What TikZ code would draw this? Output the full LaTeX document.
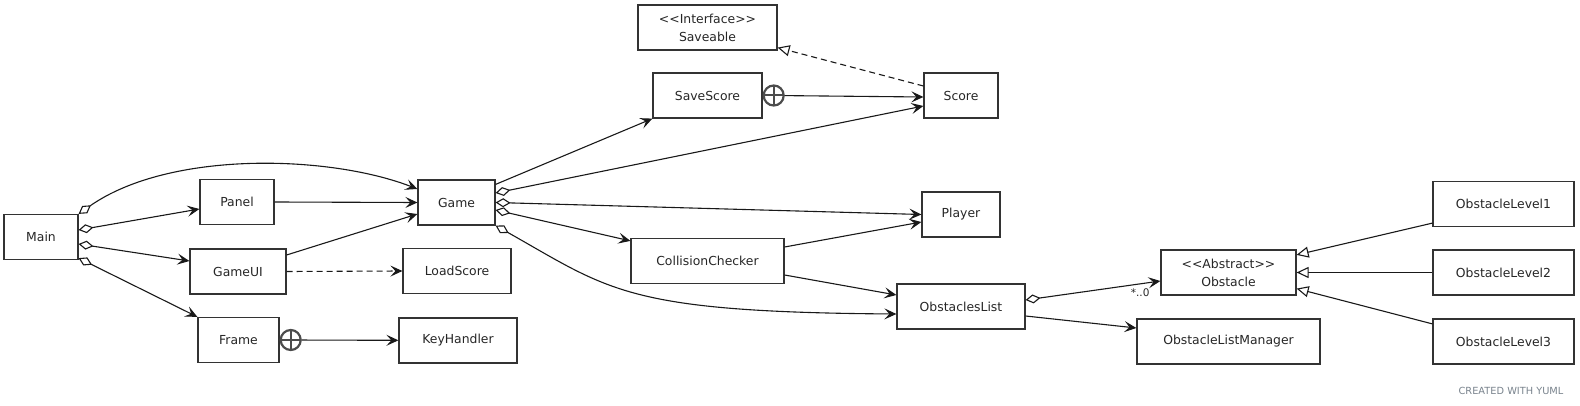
\documentclass[tikz,border=0pt]{standalone}
\usepackage{fontspec}
\setmainfont{DejaVu Sans}
\usepackage{tikz}
\usetikzlibrary{positioning,arrows.meta}

\definecolor{yumlgray}{RGB}{120,130,140}
\newcommand{\stereo}[1]{<\kern0pt<#1>\kern0pt>}

\tikzset{
  cls/.style={draw=black!80, line width=1.2pt, minimum height=45pt, inner sep=0pt,
    text=black!85, font=\fontsize{12.4}{18}\selectfont, align=center},
  vee/.style={-{Stealth[length=12pt,width=11pt,inset=5pt]}},
  assoc/.style={line width=1.1pt, black!90, vee},
  aggr/.style={assoc, {Diamond[fill=white,length=15pt,width=9pt]}-{Stealth[length=12pt,width=11pt,inset=5pt]}},
  dep/.style={assoc, dash pattern=on 6pt off 4pt},
  inherit/.style={line width=1.1pt, black!90, -{Triangle[fill=white,length=12pt,width=11pt]}},
  realize/.style={inherit, dash pattern=on 6pt off 4pt},
  nest/.style={circle, draw=black!70, line width=2.2pt, minimum size=20pt, inner sep=0pt, fill=white,
    path picture={\draw[black!70, line width=2pt]
      (path picture bounding box.north) -- (path picture bounding box.south)
      (path picture bounding box.west) -- (path picture bounding box.east);}},
  mult/.style={font=\fontsize{10.5}{12}\selectfont, text=black!85, inner sep=1pt},
  credit/.style={font=\fontsize{9.8}{11}\selectfont, text=yumlgray}
}

\begin{document}
\begin{tikzpicture}[x=1pt,y=-1pt]
    \useasboundingbox (0,0) rectangle (1580,406);
    % classes
    \node[cls, minimum width=74pt] (main) at (41,237) {Main};
    \node[cls, minimum width=74pt] (panel) at (237,202) {Panel};
    \node[cls, minimum width=96pt] (gameui) at (238,271.5) {GameUI};
    \node[cls, minimum width=81pt] (frame) at (238.5,340) {Frame};
    \node[cls, minimum width=118pt] (keyhandler) at (458,340.5) {KeyHandler};
    \node[cls, minimum width=108pt] (loadscore) at (457,271) {LoadScore};
    \node[cls, minimum width=77pt] (game) at (456.5,202.5) {Game};
    \node[cls, minimum width=139pt] (saveable) at (707.5,27.5) {\stereo{Interface}\\Saveable};
    \node[cls, minimum width=109pt] (savescore) at (707.5,95.5) {SaveScore};
    \node[cls, minimum width=74pt] (score) at (961,95.5) {Score};
    \node[cls, minimum width=78pt] (player) at (961,214.5) {Player};
    \node[cls, minimum width=153pt] (checker) at (707.5,261) {CollisionChecker};
    \node[cls, minimum width=128pt] (obstlist) at (961,306.5) {ObstaclesList};
    \node[cls, minimum width=135pt] (obstacle) at (1228.5,272.5) {\stereo{Abstract}\\Obstacle};
    \node[cls, minimum width=183pt] (listmanager) at (1228.5,341.5) {ObstacleListManager};
    \foreach \i/\y in {1/204,2/272.5,3/341.5}
        \node[cls, minimum width=141pt] (level\i) at (1503.5,\y) {ObstacleLevel\i};

    % Main
    \draw[aggr] (main.north east) .. controls (170,150) and (330,155) .. ([yshift=13.5pt]game.west);
    \draw[aggr] ([yshift=7pt]main.east) -- ([yshift=-7pt]panel.west);
    \draw[aggr] ([yshift=-7pt]main.east) -- ([yshift=10.5pt]gameui.west);
    \draw[aggr] ([yshift=2pt]main.south east) -- (frame.north west);
    \draw[assoc] (panel.east) -- (game.west);
    \draw[assoc] ([yshift=16.5pt]gameui.east) -- ([yshift=-11.5pt]game.west);
    \draw[dep] (gameui.east) -- (loadscore.west);
    \node[nest, right=0pt of frame] (framenest) {};
    \draw[assoc] (framenest) -- (keyhandler);

    % Game
    \draw[assoc] ([yshift=-5pt]game.north east) -- (savescore.south west);
    \draw[aggr] ([yshift=9.5pt]game.east) -- ([yshift=-10.5pt]score.west);
    \draw[aggr] (game.east) -- (player.west);
    \draw[aggr] ([yshift=-7.5pt]game.east) -- ([yshift=-3pt]checker.north west);
    \draw[aggr] (game.south east) .. controls (610,290) and (625,312) .. ([yshift=-7.5pt]obstlist.west);

    % Score
    \node[nest, right=0pt of savescore] (scorenest) {};
    \draw[assoc] (scorenest) -- ([yshift=-1.5pt]score.west);
    \draw[realize] ([yshift=9.5pt]score.west) -- ([yshift=3pt]saveable.south east);

    % CollisionChecker
    \draw[assoc] ([yshift=14pt]checker.east) -- ([yshift=-7.5pt]player.west);
    \draw[assoc] ([yshift=-14pt]checker.east) -- ([yshift=11.5pt]obstlist.west);

    % Obstacles
    \draw[aggr] ([yshift=6.5pt]obstlist.east) -- ([yshift=-8.5pt]obstacle.west)
        node[mult, pos=0.85, below=3pt] (many) {*..0};
    \draw[assoc] ([yshift=-9.5pt]obstlist.east) -- ([yshift=13.5pt]listmanager.west);
    \draw[inherit] ([yshift=4pt]level1.south west) -- ([yshift=-5.5pt]obstacle.north east);
    \draw[inherit] (level2.west) -- (obstacle.east);
    \draw[inherit] ([yshift=-5.5pt]level3.north west) -- ([yshift=7pt]obstacle.south east);

    \node[credit] (yuml) at (1511,391) {CREATED WITH YUML};
\end{tikzpicture}
\end{document}
